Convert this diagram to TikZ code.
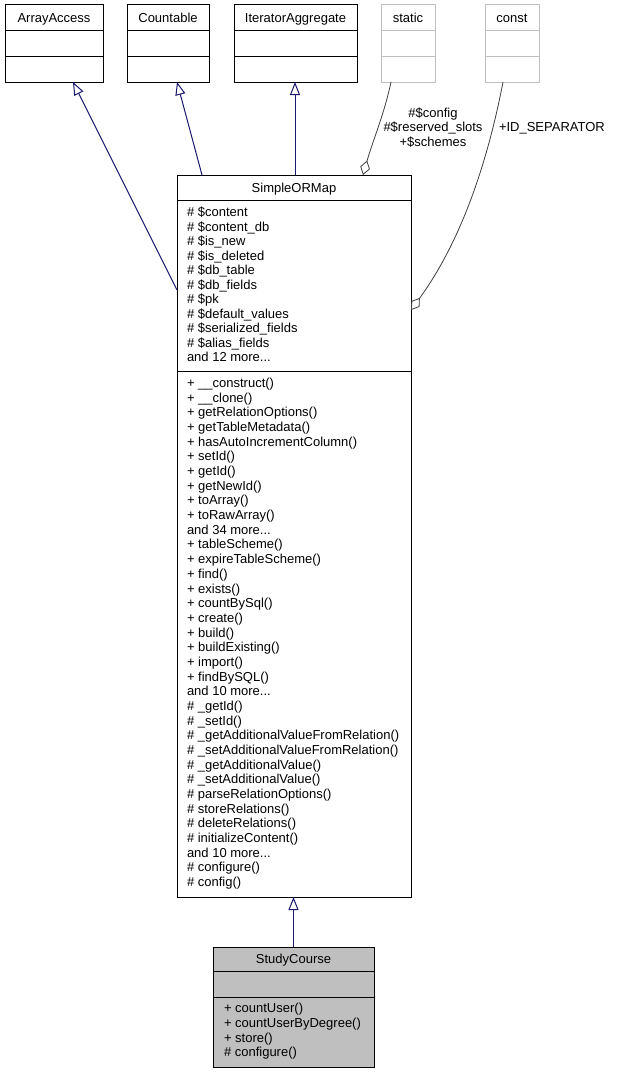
\documentclass[tikz,border=0pt]{standalone}
\usepackage{fontspec}
\setmainfont{Liberation Sans}
\usetikzlibrary{arrows.meta}
\definecolor{inhc}{HTML}{191970}
\definecolor{aggc}{HTML}{404040}
\definecolor{greyb}{HTML}{BFBFBF}
\newcommand{\mytdots}{...}
\begin{document}
\begin{tikzpicture}[x=1pt,y=-1pt,
  every node/.style={inner sep=0pt, outer sep=0pt, font=\fontsize{13}{15}\selectfont},
  cls/.style={draw=black, line width=1pt},
  gcls/.style={draw=greyb, line width=1pt},
  box/.style={anchor=north west},
  inh/.style={draw=inhc, line width=1pt, -{Triangle[open, length=13pt, width=10pt]}},
  agg/.style={draw=aggc, line width=0.8pt, -{Diamond[open, length=15pt, width=10pt]}},
  txt/.style={anchor=base west},
  ttl/.style={anchor=base},
]
\useasboundingbox (0,0) rectangle (618,1073);
\fill[white] (0,0) rectangle (618,1073);

% top classes
\node[cls, box, minimum width=98pt, minimum height=77pt] (aa) at (5,5) {};
\draw[cls] (aa.west |- 0,31) -- (aa.east |- 0,31);
\draw[cls] (aa.west |- 0,57) -- (aa.east |- 0,57);
\node[ttl] (aat) at (54,22.5) {ArrayAccess};

\node[cls, box, minimum width=82pt, minimum height=77pt] (cnt) at (127,5) {};
\draw[cls] (cnt.west |- 0,31) -- (cnt.east |- 0,31);
\draw[cls] (cnt.west |- 0,57) -- (cnt.east |- 0,57);
\node[ttl] (cntt) at (168,22.5) {Countable};

\node[cls, box, minimum width=123pt, minimum height=77pt] (ia) at (234,5) {};
\draw[cls] (ia.west |- 0,31) -- (ia.east |- 0,31);
\draw[cls] (ia.west |- 0,57) -- (ia.east |- 0,57);
\node[ttl] (iat) at (295.5,22.5) {IteratorAggregate};

\node[gcls, box, minimum width=54pt, minimum height=77pt] (st) at (381,5) {};
\draw[gcls] (st.west |- 0,31) -- (st.east |- 0,31);
\draw[gcls] (st.west |- 0,57) -- (st.east |- 0,57);
\node[ttl] (stt) at (408,22.5) {static};

\node[gcls, box, minimum width=54pt, minimum height=77pt] (co) at (485,5) {};
\draw[gcls] (co.west |- 0,31) -- (co.east |- 0,31);
\draw[gcls] (co.west |- 0,57) -- (co.east |- 0,57);
\node[ttl] (cot) at (512,22.5) {const};

% SimpleORMap
\node[cls, box, minimum width=234pt, minimum height=722pt] (sorm) at (177,175) {};
\draw[cls] (sorm.west |- 0,200) -- (sorm.east |- 0,200);
\draw[cls] (sorm.west |- 0,371) -- (sorm.east |- 0,371);
\node[ttl] (sormt) at (294,192.5) {SimpleORMap};

\foreach \t [count=\i from 0] in {\# \$content, \# \$content\_db, \# \$is\_new, \# \$is\_deleted,
  \# \$db\_table, \# \$db\_fields, \# \$pk, \# \$default\_values, \# \$serialized\_fields,
  \# \$alias\_fields, and 12 more\mytdots}
  \node[txt] (attr\i) at (187, 216.5+14.5*\i) {\t};

\foreach \t [count=\i from 0] in {+ \_\_construct(), + \_\_clone(), + getRelationOptions(),
  + getTableMetadata(), + hasAutoIncrementColumn(), + setId(), + getId(), + getNewId(),
  + toArray(), + toRawArray(), and 34 more\mytdots, + tableScheme(), + expireTableScheme(),
  + find(), + exists(), + countBySql(), + create(), + build(), + buildExisting(),
  + import(), + findBySQL(), and 10 more\mytdots, \# \_getId(), \# \_setId(),
  \# \_getAdditionalValueFromRelation(), \# \_setAdditionalValueFromRelation(),
  \# \_getAdditionalValue(), \# \_setAdditionalValue(), \# parseRelationOptions(),
  \# storeRelations(), \# deleteRelations(), \# initializeContent(), and 10 more\mytdots,
  \# configure(), \# config()}
  \node[txt] (meth\i) at (187, 387.5+14.68*\i) {\t};

% StudyCourse
\node[cls, box, fill=greyb, minimum width=161pt, minimum height=120pt] (sc) at (213,947) {};
\draw[cls] (sc.west |- 0,971) -- (sc.east |- 0,971);
\draw[cls] (sc.west |- 0,997) -- (sc.east |- 0,997);
\node[ttl] (sct) at (293.5,963.5) {StudyCourse};
\foreach \t [count=\i from 0] in {+ countUser(), + countUserByDegree(), + store(), \# configure()}
  \node[txt] (scm\i) at (224, 1012.5+14.8*\i) {\t};

% inheritance
\draw[inh] (sorm.west |- 0,290) -- (73,0 |- aa.south);
\draw[inh] (202,0 |- sorm.north) -- (177,0 |- cnt.south);
\draw[inh] (295,0 |- sorm.north) -- (295,0 |- ia.south);
\draw[inh] (sc.north) -- (sc.north |- sorm.south);

% aggregation
\draw[agg] (391,0 |- st.south) .. controls (384,115) and (373,140) .. (363,0 |- sorm.north);
\draw[agg] (503,0 |- co.south) .. controls (488,160) and (462,240) .. (sorm.east |- 0,310);

% labels
\node[ttl] (l1) at (433,117.5) {\#\$config};
\node[ttl] (l2) at (433,131.5) {\#\$reserved\_slots};
\node[ttl] (l3) at (433,146.5) {+\$schemes};
\node[txt] (l4) at (499,131.5) {+ID\_SEPARATOR};
\end{tikzpicture}
\end{document}
